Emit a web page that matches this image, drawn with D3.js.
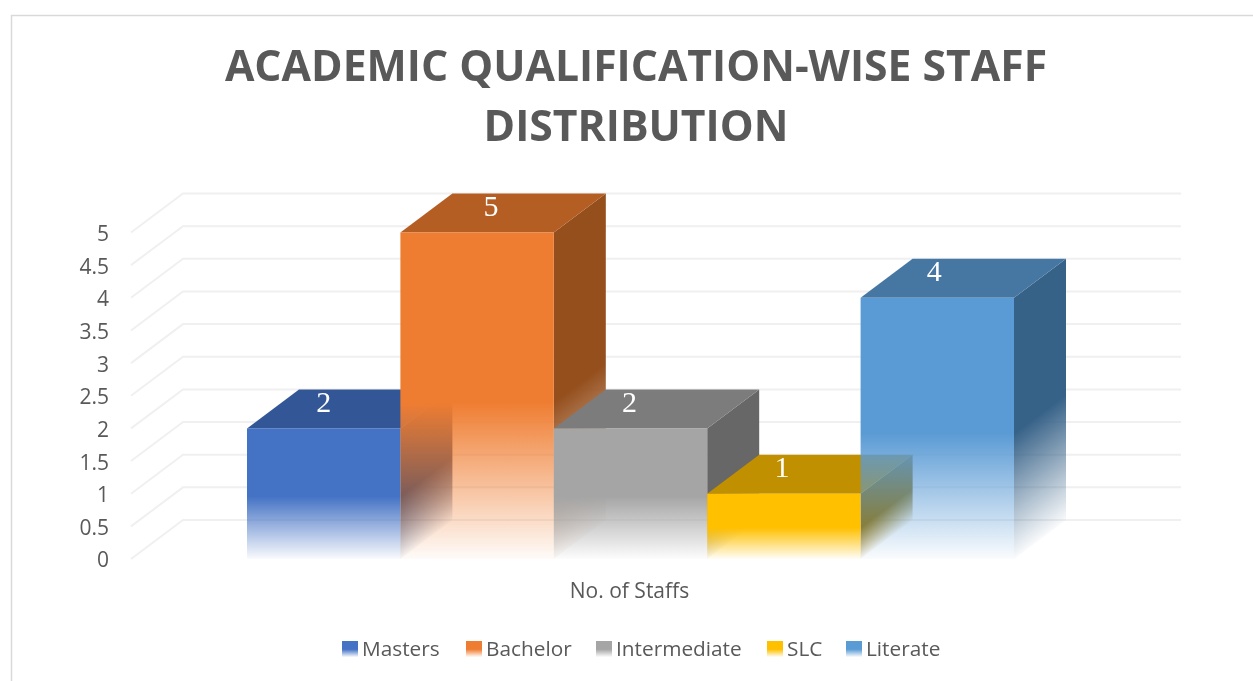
<!DOCTYPE html>
<html><head><meta charset="utf-8">
<script src="https://cdn.jsdelivr.net/npm/d3@7/dist/d3.min.js"></script>
<style>html,body{margin:0;padding:0;background:#fff;overflow:hidden}svg{display:block;filter:blur(0.35px)}</style>
</head><body><svg id="c" width="1253" height="681"></svg>
<script>
const categories = ["Masters","Bachelor","Intermediate","SLC","Literate"];
const values = [2,5,2,1,4];
const tickValues = [0,0.5,1,1.5,2,2.5,3,3.5,4,4.5,5];
const frontColors = ["#4472c4","#ef7d31","#a5a5a5","#ffc000","#5b9bd5"];
const topColors = ["#335796","#b45e24","#7c7c7c","#c09000","#4676a2"];
const sideColors = ["#294577","#954f1d","#676767","#987300","#376288"];
const titleLines = ["ACADEMIC QUALIFICATION-WISE STAFF","DISTRIBUTION"];
const axisTitle = "No. of Staffs";
const legendSwatchX = [342,466,596,767,846];
const labelShift = [0,14,-1,-2,-3];

const svg = d3.select("#c");
const W = 1253, H = 681;
const depthX = 52, depthY = 39;
const y = d3.scaleLinear().domain([0,5]).range([559,232.5]);
const x = d3.scaleBand().domain(categories).range([247,1014]).padding(0);
const wallLeft = 131, wallRight = 1181;
const font = "'Open Sans', sans-serif";

const defs = svg.append("defs");
function fade(id,color){
  const g = defs.append("linearGradient").attr("id",id).attr("x1",0).attr("y1",0).attr("x2",0).attr("y2",1);
  g.append("stop").attr("offset","0").attr("stop-color",color).attr("stop-opacity",1);
  g.append("stop").attr("offset","0.52").attr("stop-color",color).attr("stop-opacity",1);
  g.append("stop").attr("offset","1").attr("stop-color",color).attr("stop-opacity",0.03);
}
categories.forEach((c,i)=>{fade("front"+i,frontColors[i]);fade("side"+i,sideColors[i]);});

svg.append("rect").attr("x",11.5).attr("y",15.5).attr("width",W+20).attr("height",H+20)
   .attr("fill","#fff").attr("stroke","#d9d9d9").attr("stroke-width",1.5);

// title
svg.append("g").selectAll("text").data(titleLines).join("text")
  .attr("x",636).attr("y",(d,i)=>81+i*60).attr("text-anchor","middle")
  .attr("font-family",font).attr("font-weight",700).attr("font-size",42.7)
  .attr("fill","#595959").text(d=>d);

// walls
const grid = svg.append("g").attr("fill","none").attr("stroke","#f0f0f0").attr("stroke-width",2);
tickValues.forEach(t=>{
  grid.append("path").attr("d",d3.line()([[wallLeft,y(t)],[wallLeft+depthX,y(t)-depthY],[wallRight,y(t)-depthY]]));
});

// axis
const axis = svg.append("g").attr("transform","translate(109,0)")
  .call(d3.axisLeft(y).tickValues(tickValues).tickSize(0).tickPadding(0).tickFormat(d3.format("~g")));
axis.select(".domain").remove();
axis.selectAll("text").attr("font-family",font).attr("font-size",21).attr("fill","#595959").attr("dy","0.38em");

// bars
const bars = svg.append("g").selectAll("g").data(categories).join("g");
bars.each(function(c,i){
  const g = d3.select(this), x0 = x(c), bw = x.bandwidth(), top = y(values[i]), base = y(0);
  const right = x0 + bw;
  g.append("rect").attr("x",0).attr("y",top).attr("width",depthX).attr("height",base-top)
    .attr("transform",`translate(${right},0) matrix(1,${-depthY/depthX},0,1,0,0)`)
    .attr("fill",`url(#side${i})`);
  g.append("path").attr("fill",topColors[i])
    .attr("d",d3.line()([[x0,top],[x0+depthX,top-depthY],[right+depthX,top-depthY],[right,top]])+"Z");
  g.append("rect").attr("x",x0).attr("y",top).attr("width",bw).attr("height",base-top)
    .attr("fill",`url(#front${i})`);
});

// value labels
svg.append("g").selectAll("text").data(categories).join("text")
  .attr("x",(c,i)=>x(c)+x.bandwidth()/2+labelShift[i])
  .attr("y",(c,i)=>y(values[i])-depthY+22.5)
  .attr("text-anchor","middle").attr("font-family","'Liberation Serif',serif").attr("font-size",30)
  .attr("fill","#fff").text((c,i)=>values[i]);

// axis title
svg.append("text").attr("x",629.5).attr("y",598).attr("text-anchor","middle")
  .attr("font-family",font).attr("font-size",21).attr("fill","#595959").text(axisTitle);

// legend
const leg = svg.append("g").selectAll("g").data(categories).join("g");
leg.append("rect").attr("x",(c,i)=>legendSwatchX[i]).attr("y",641).attr("width",16).attr("height",16)
  .attr("fill",(c,i)=>`url(#front${i})`);
leg.append("text").attr("x",(c,i)=>legendSwatchX[i]+20).attr("y",656)
  .attr("font-family",font).attr("font-size",20.8).attr("fill","#595959").text(c=>c);
</script></body></html>
